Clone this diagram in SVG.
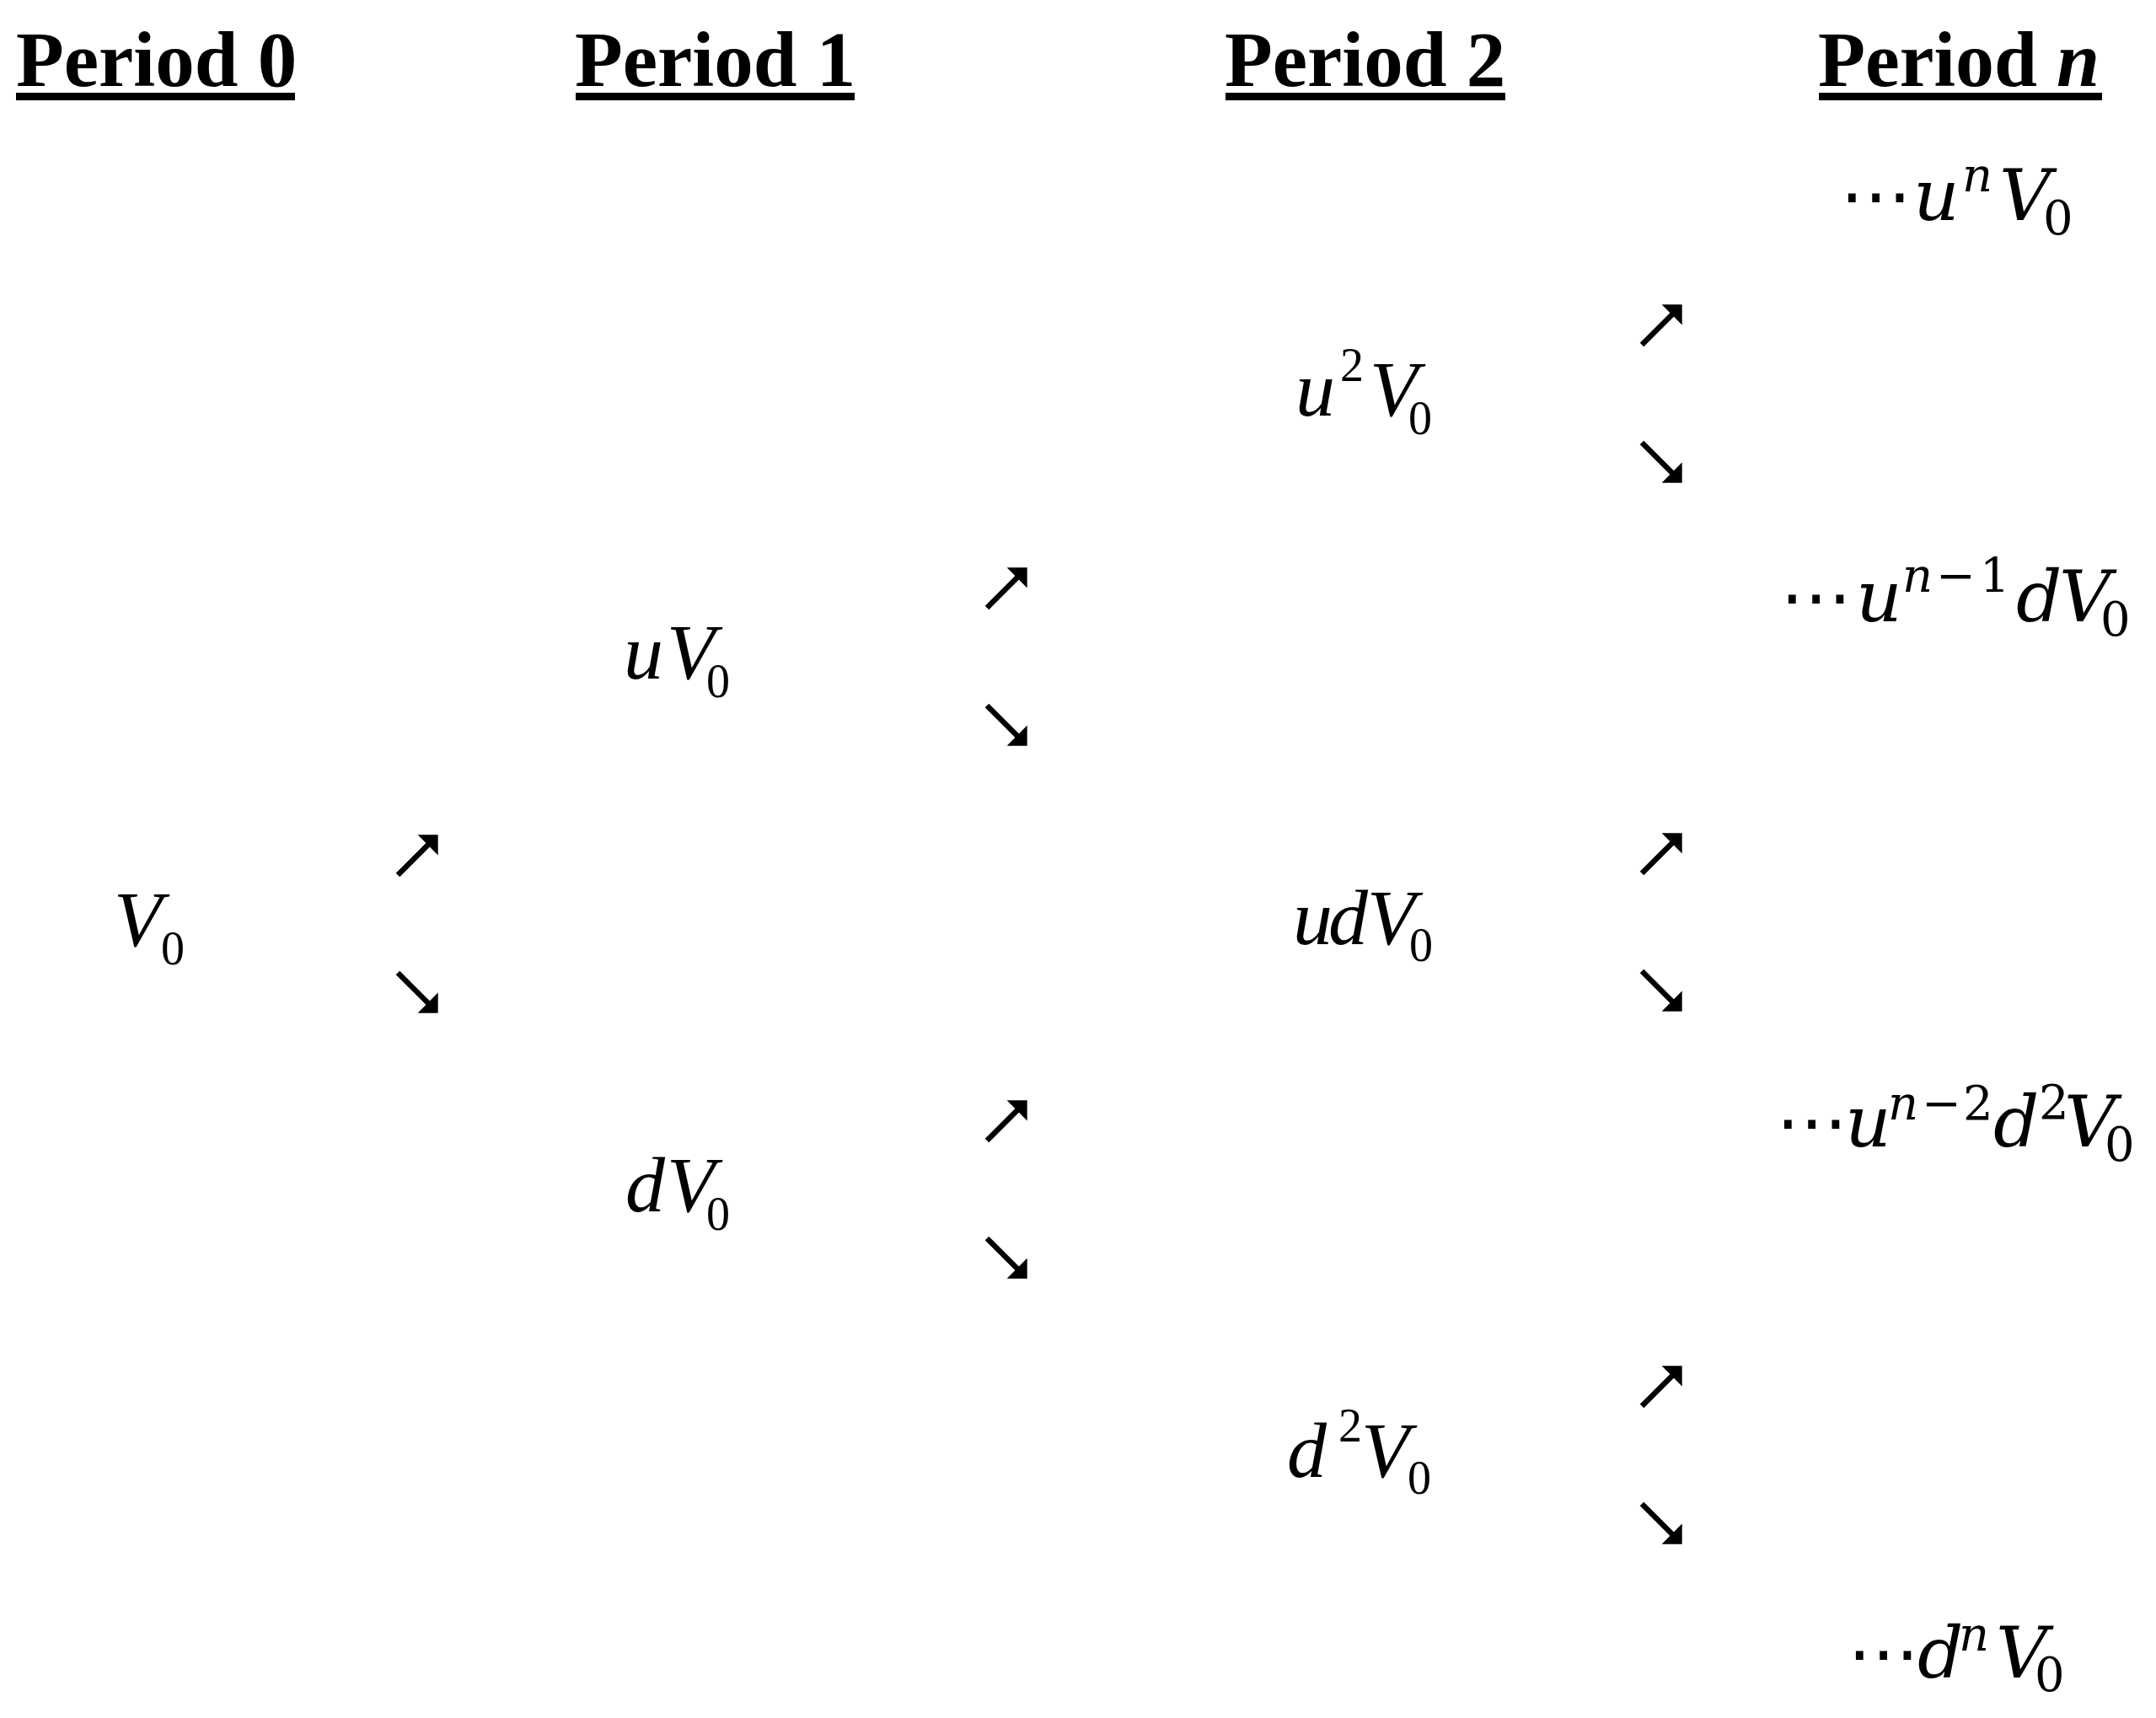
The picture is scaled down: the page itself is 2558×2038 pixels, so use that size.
<svg xmlns="http://www.w3.org/2000/svg" width="2558" height="2038" viewBox="0 0 2558 2038">
<style>
.hdr{font-family:"Liberation Serif","Times New Roman",serif;font-weight:bold;font-size:93px;fill:#000}
.ul{fill:#000}
.m{font-family:"Liberation Serif","Times New Roman",serif;font-style:italic;font-size:94px;fill:#000}
.s{font-size:56px;font-style:normal}
.c{font-family:"DejaVu Serif",serif;font-style:italic;font-size:85px;fill:#000}
.cs{font-size:56px}
.up{font-style:normal}
.dots{font-family:"DejaVu Sans",sans-serif;font-style:normal}
.arr{stroke:#000;stroke-width:6.5;fill:none;marker-end:url(#ah)}
</style>
<defs>
<marker id="ah" markerUnits="userSpaceOnUse" markerWidth="44" markerHeight="44" viewBox="-22 -22 44 44" refX="0" refY="0" orient="auto" overflow="visible">
<path d="M8,0 L-9,-17 L-9,17 Z" fill="#000"/>
</marker>
</defs>
<rect width="2558" height="2038" fill="#fff"/>
<g id="headers">
<g id="h0"><text class="hdr" x="19" y="102">Period 0</text><rect class="ul" x="19" y="110" width="331" height="9"/></g>
<g id="h1"><text class="hdr" x="682" y="102">Period 1</text><rect class="ul" x="683" y="110" width="331" height="9"/></g>
<g id="h2"><text class="hdr" x="1453" y="102">Period 2</text><rect class="ul" x="1454" y="110" width="332" height="9"/></g>
<g id="hn"><text class="hdr" x="2157" y="102" textLength="334" lengthAdjust="spacingAndGlyphs">Period <tspan font-style="italic">n</tspan></text><rect class="ul" x="2158" y="110" width="336" height="9"/></g>
</g>
<g id="nodes">
<g id="n-V0"><text class="m"><tspan x="135" y="1122">V</tspan><tspan class="s" x="191" y="1144">0</tspan></text></g>
<g id="n-uV0"><text class="m"><tspan x="740" y="805">u</tspan><tspan x="791" y="805">V</tspan><tspan class="s" x="838" y="827">0</tspan></text></g>
<g id="n-dV0"><text class="m"><tspan x="742" y="1437">d</tspan><tspan x="791" y="1437">V</tspan><tspan class="s" x="838" y="1459">0</tspan></text></g>
<g id="n-u2V0"><text class="m"><tspan x="1537" y="493">u</tspan><tspan class="s" x="1590" y="452">2</tspan><tspan x="1625" y="493">V</tspan><tspan class="s" x="1671" y="515">0</tspan></text></g>
<g id="n-udV0"><text class="m"><tspan x="1534" y="1120">u</tspan><tspan x="1576" y="1120">d</tspan><tspan x="1622" y="1120">V</tspan><tspan class="s" x="1672" y="1140">0</tspan></text></g>
<g id="n-d2V0"><text class="m"><tspan x="1527" y="1752">d</tspan><tspan class="s" x="1588" y="1710">2</tspan><tspan x="1615" y="1752">V</tspan><tspan class="s" x="1670" y="1772">0</tspan></text></g>
<g id="n-unV0"><text class="c"><tspan class="dots" x="2183" y="261">⋯</tspan><tspan x="2270" y="261">u</tspan><tspan class="cs" x="2328" y="227">n</tspan><tspan x="2372" y="261">V</tspan><tspan class="cs up" x="2424" y="278">0</tspan></text></g>
<g id="n-un1dV0"><text class="c"><tspan class="dots" x="2112" y="737">⋯</tspan><tspan x="2202" y="737">u</tspan><tspan class="cs" x="2257" y="702">n</tspan><tspan class="cs up" x="2297" y="702">−</tspan><tspan class="cs up" x="2349" y="702">1</tspan><tspan x="2392" y="737">d</tspan><tspan x="2443" y="737">V</tspan><tspan class="cs up" x="2492" y="754">0</tspan></text></g>
<g id="n-un2d2V0"><text class="c"><tspan class="dots" x="2107" y="1360">⋯</tspan><tspan x="2189" y="1360">u</tspan><tspan class="cs" x="2240" y="1328">n</tspan><tspan class="cs up" x="2280" y="1328">−</tspan><tspan class="cs up" x="2329" y="1328">2</tspan><tspan x="2365" y="1360">d</tspan><tspan class="cs up" x="2419" y="1327">2</tspan><tspan x="2449" y="1360">V</tspan><tspan class="cs up" x="2497" y="1377">0</tspan></text></g>
<g id="n-dnV0"><text class="c"><tspan class="dots" x="2192" y="1990">⋯</tspan><tspan x="2275" y="1990">d</tspan><tspan class="cs" x="2324" y="1958">n</tspan><tspan x="2368" y="1990">V</tspan><tspan class="cs up" x="2414" y="2006">0</tspan></text></g>
</g>
<g id="connectors">
<path class="arr" d="M472,1038 L514,996"/>
<path class="arr" d="M472,1154 L514,1196"/>
<path class="arr" d="M1171,721 L1213,679"/>
<path class="arr" d="M1171,837 L1213,879"/>
<path class="arr" d="M1171,1353 L1213,1311"/>
<path class="arr" d="M1171,1469 L1213,1511"/>
<path class="arr" d="M1948,409 L1990,367"/>
<path class="arr" d="M1948,525 L1990,567"/>
<path class="arr" d="M1948,1036 L1990,994"/>
<path class="arr" d="M1948,1152 L1990,1194"/>
<path class="arr" d="M1948,1668 L1990,1626"/>
<path class="arr" d="M1948,1784 L1990,1826"/>
</g>
</svg>
